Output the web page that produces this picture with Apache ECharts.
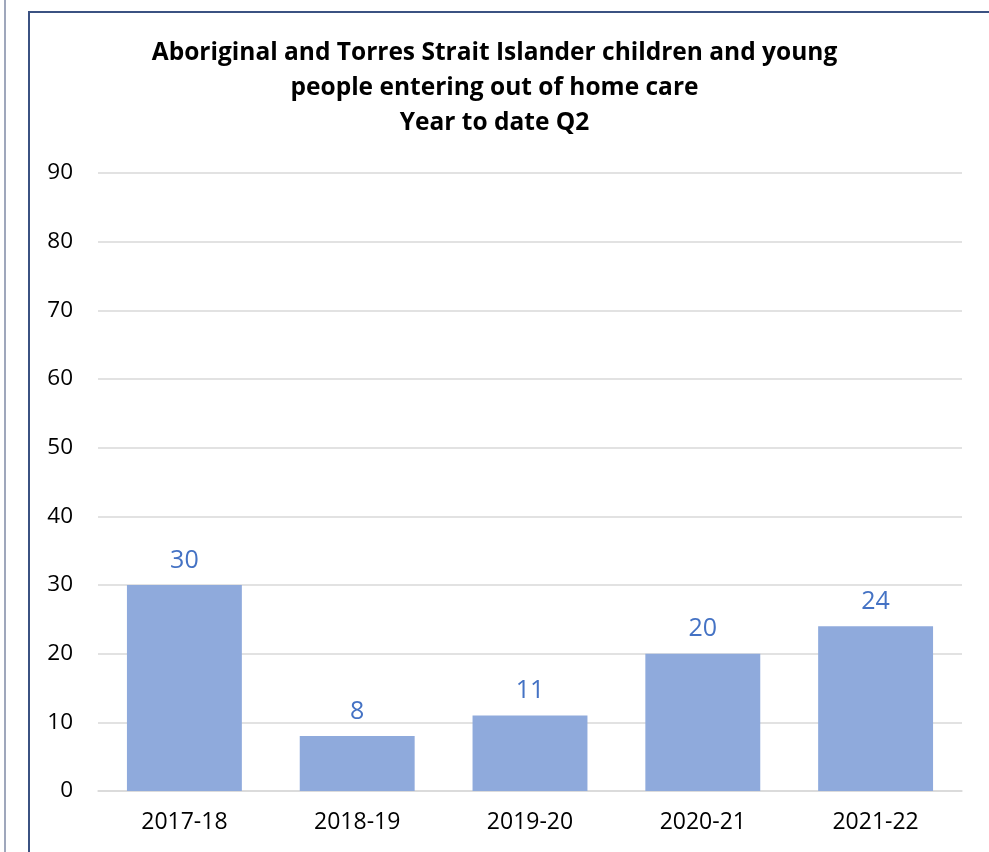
<!DOCTYPE html>
<html>
<head>
<meta charset="utf-8">
<script src="https://cdn.jsdelivr.net/npm/echarts@6/dist/echarts.min.js"></script>
<style>
html,body{margin:0;padding:0;background:#fff;}
#chart{width:989px;height:852px;}
</style>
</head>
<body>
<div id="chart"></div>
<script>
var categories = ['2017-18', '2018-19', '2019-20', '2020-21', '2021-22'];
var values = [30, 8, 11, 20, 24];
var titleText = 'Aboriginal and Torres Strait Islander children and young\npeople entering out of home care\nYear to date Q2';

var chart = echarts.init(document.getElementById('chart'));
chart.setOption({
  animation: false,
  backgroundColor: '#ffffff',
  graphic: [
    { type: 'line', shape: { x1: 5, y1: 0, x2: 5, y2: 852 }, style: { stroke: '#7f8aa6', lineWidth: 1.5 } },
    { type: 'rect', shape: { x: 29, y: 12, width: 1000, height: 900 }, style: { fill: 'none', stroke: '#3b5282', lineWidth: 2 } }
  ],
  title: {
    text: titleText,
    left: 'center',
    top: 31,
    textStyle: { fontFamily: 'Open Sans', fontWeight: 'bold', fontSize: 24.5, lineHeight: 35, color: '#000' }
  },
  grid: { left: 98, right: 27, top: 173, bottom: 61 },
  xAxis: {
    type: 'category',
    data: categories,
    axisLine: { show: true, lineStyle: { color: '#d9d9d9', width: 1.5 } },
    axisTick: { show: false },
    axisLabel: { fontFamily: 'Open Sans', fontSize: 23, color: '#000', margin: 20 }
  },
  yAxis: {
    type: 'value',
    min: 0, max: 90, interval: 10,
    axisLine: { show: false },
    axisTick: { show: false },
    splitLine: { lineStyle: { color: '#d9d9d9', width: 1.5 } },
    axisLabel: { fontFamily: 'Open Sans', fontSize: 22.5, color: '#000', margin: 25 }
  },
  series: [{
    type: 'bar',
    data: values,
    barWidth: '66.5%',
    itemStyle: { color: '#8faadc' },
    label: { show: true, position: 'top', distance: 12, fontFamily: 'Open Sans', fontSize: 25, color: '#4472c4' }
  }]
});
</script>
</body>
</html>
